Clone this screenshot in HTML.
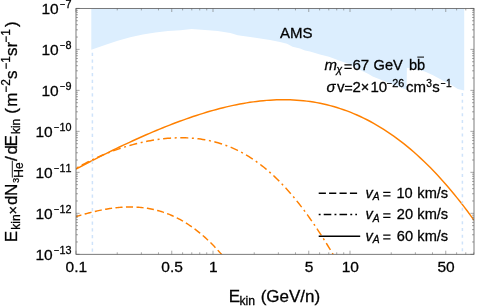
<!DOCTYPE html>
<html><head><meta charset="utf-8"><title>chart</title>
<style>
html,body{margin:0;padding:0;background:#fff;}
svg{display:block;}
text{font-family:"Liberation Sans",sans-serif;font-kerning:none;fill:#000;stroke:#000;stroke-width:1.2px;}
</style></head><body>
<svg width="478" height="308" viewBox="0 0 478 308">
<rect width="478" height="308" fill="#fff"/>
<defs><clipPath id="c"><rect x="76.0" y="8.4" width="398.0" height="245.9"/></clipPath></defs>
<path d="M91.3,8.4 L91.3,49.7 L105.0,45.0 L117.7,40.8 L130.2,37.2 L142.8,34.6 L155.4,32.6 L167.9,31.1 L180.5,30.3 L191.5,29.1 L205.0,30.1 L217.7,31.1 L230.3,33.1 L237.8,35.2 L255.4,37.7 L270.0,39.9 L280.0,42.0 L287.0,43.8 L292.6,46.8 L300.0,48.6 L305.0,50.5 L310.0,51.5 L320.0,54.6 L329.0,56.8 L339.0,60.5 L349.0,64.0 L358.7,69.2 L368.5,74.0 L372.7,76.5 L385.3,81.5 L398.0,86.6 L406.6,89.7 L406.9,67.8 L416.6,69.6 L424.8,71.6 L433.1,75.2 L441.4,79.8 L449.7,84.0 L457.9,88.9 L464.2,90.6 L464.2,8.4Z" fill="#dceefe"/>
<g clip-path="url(#c)" fill="none" stroke="#ff8000" stroke-width="1.45">
<path d="M76.00,169.05 L79.34,167.27 L82.69,165.50 L86.03,163.74 L89.38,162.00 L92.72,160.28 L96.07,158.57 L99.41,156.87 L102.76,155.19 L106.10,153.53 L109.45,151.87 L112.79,150.24 L116.13,148.62 L119.48,147.01 L122.82,145.43 L126.17,143.85 L129.51,142.30 L132.86,140.76 L136.20,139.24 L139.55,137.74 L142.89,136.25 L146.24,134.78 L149.58,133.34 L152.92,131.91 L156.27,130.50 L159.61,129.12 L162.96,127.75 L166.30,126.41 L169.65,125.09 L172.99,123.80 L176.34,122.53 L179.68,121.28 L183.03,120.06 L186.37,118.87 L189.71,117.70 L193.06,116.56 L196.40,115.45 L199.75,114.37 L203.09,113.32 L206.44,112.30 L209.78,111.32 L213.13,110.36 L216.47,109.44 L219.82,108.56 L223.16,107.71 L226.50,106.90 L229.85,106.13 L233.19,105.39 L236.54,104.70 L239.88,104.04 L243.23,103.43 L246.57,102.86 L249.92,102.34 L253.26,101.86 L256.61,101.42 L259.95,101.03 L263.29,100.69 L266.64,100.40 L269.98,100.16 L273.33,99.97 L276.67,99.84 L280.02,99.75 L283.36,99.72 L286.71,99.75 L290.05,99.83 L293.39,99.97 L296.74,100.17 L300.08,100.43 L303.43,100.75 L306.77,101.13 L310.12,101.57 L313.46,102.08 L316.81,102.65 L320.15,103.29 L323.50,104.00 L326.84,104.77 L330.18,105.62 L333.53,106.53 L336.87,107.52 L340.22,108.57 L343.56,109.71 L346.91,110.91 L350.25,112.19 L353.60,113.55 L356.94,114.98 L360.29,116.49 L363.63,118.09 L366.97,119.76 L370.32,121.51 L373.66,123.35 L377.01,125.26 L380.35,127.26 L383.70,129.35 L387.04,131.52 L390.39,133.78 L393.73,136.12 L397.08,138.55 L400.42,141.07 L403.76,143.68 L407.11,146.38 L410.45,149.17 L413.80,152.05 L417.14,155.03 L420.49,158.09 L423.83,161.25 L427.18,164.51 L430.52,167.85 L433.87,171.30 L437.21,174.83 L440.55,178.47 L443.90,182.20 L447.24,186.03 L450.59,189.95 L453.93,193.97 L457.28,198.09 L460.62,202.31 L463.97,206.63 L467.31,211.05 L470.66,215.56 L474.00,220.18"/>
<path d="M76.00,168.29 L78.18,167.06 L80.37,165.86 L82.55,164.69 L84.74,163.54 L86.92,162.42 L89.11,161.32 L91.29,160.25 L93.48,159.20 L95.66,158.18 L97.85,157.19 L100.03,156.22 L102.22,155.27 L104.40,154.36 L106.59,153.46 L108.77,152.59 L110.96,151.75 L113.14,150.93 L115.33,150.13 L117.51,149.36 L119.70,148.61 L121.88,147.88 L124.07,147.18 L126.25,146.51 L128.44,145.86 L130.62,145.23 L132.81,144.62 L134.99,144.04 L137.18,143.49 L139.36,142.96 L141.55,142.45 L143.73,141.97 L145.92,141.51 L148.10,141.08 L150.29,140.67 L152.47,140.28 L154.66,139.93 L156.84,139.60 L159.03,139.29 L161.21,139.01 L163.39,138.76 L165.58,138.54 L167.76,138.34 L169.95,138.17 L172.13,138.03 L174.32,137.92 L176.50,137.84 L178.69,137.79 L180.87,137.77 L183.06,137.78 L185.24,137.83 L187.43,137.90 L189.61,138.01 L191.80,138.16 L193.98,138.33 L196.17,138.55 L198.35,138.80 L200.54,139.09 L202.72,139.41 L204.91,139.77 L207.09,140.18 L209.28,140.62 L211.46,141.10 L213.65,141.63 L215.83,142.20 L218.02,142.81 L220.20,143.47 L222.39,144.17 L224.57,144.92 L226.76,145.72 L228.94,146.56 L231.13,147.45 L233.31,148.40 L235.50,149.39 L237.68,150.44 L239.87,151.53 L242.05,152.68 L244.24,153.89 L246.42,155.15 L248.61,156.47 L250.79,157.84 L252.97,159.27 L255.16,160.76 L257.34,162.30 L259.53,163.91 L261.71,165.58 L263.90,167.30 L266.08,169.09 L268.27,170.94 L270.45,172.86 L272.64,174.83 L274.82,176.87 L277.01,178.98 L279.19,181.14 L281.38,183.37 L283.56,185.67 L285.75,188.03 L287.93,190.46 L290.12,192.95 L292.30,195.50 L294.49,198.12 L296.67,200.80 L298.86,203.55 L301.04,206.36 L303.23,209.23 L305.41,212.17 L307.60,215.17 L309.78,218.22 L311.97,221.34 L314.15,224.52 L316.34,227.76 L318.52,231.05 L320.71,234.40 L322.89,237.80 L325.08,241.25 L327.26,244.75 L329.45,248.31 L331.63,251.91 L333.82,255.55 L336.00,259.23" stroke-dasharray="2 3.6 8 3.6" stroke-dashoffset="-1"/>
<path d="M76.00,216.58 L77.25,216.21 L78.50,215.83 L79.76,215.47 L81.01,215.10 L82.26,214.74 L83.51,214.39 L84.76,214.04 L86.02,213.70 L87.27,213.36 L88.52,213.03 L89.77,212.71 L91.03,212.39 L92.28,212.08 L93.53,211.78 L94.78,211.48 L96.03,211.19 L97.29,210.91 L98.54,210.64 L99.79,210.37 L101.04,210.11 L102.29,209.86 L103.55,209.62 L104.80,209.39 L106.05,209.17 L107.30,208.96 L108.55,208.75 L109.81,208.56 L111.06,208.38 L112.31,208.20 L113.56,208.04 L114.82,207.89 L116.07,207.75 L117.32,207.61 L118.57,207.50 L119.82,207.39 L121.08,207.29 L122.33,207.21 L123.58,207.13 L124.83,207.07 L126.08,207.03 L127.34,206.99 L128.59,206.97 L129.84,206.96 L131.09,206.96 L132.34,206.98 L133.60,207.01 L134.85,207.06 L136.10,207.11 L137.35,207.19 L138.61,207.27 L139.86,207.38 L141.11,207.49 L142.36,207.63 L143.61,207.77 L144.87,207.94 L146.12,208.11 L147.37,208.31 L148.62,208.52 L149.87,208.74 L151.13,208.98 L152.38,209.24 L153.63,209.52 L154.88,209.81 L156.13,210.12 L157.39,210.45 L158.64,210.79 L159.89,211.15 L161.14,211.53 L162.39,211.93 L163.65,212.35 L164.90,212.78 L166.15,213.23 L167.40,213.70 L168.66,214.19 L169.91,214.70 L171.16,215.23 L172.41,215.78 L173.66,216.35 L174.92,216.93 L176.17,217.54 L177.42,218.17 L178.67,218.82 L179.92,219.48 L181.18,220.17 L182.43,220.88 L183.68,221.61 L184.93,222.36 L186.18,223.14 L187.44,223.93 L188.69,224.75 L189.94,225.58 L191.19,226.44 L192.45,227.32 L193.70,228.23 L194.95,229.16 L196.20,230.10 L197.45,231.08 L198.71,232.07 L199.96,233.09 L201.21,234.13 L202.46,235.19 L203.71,236.28 L204.97,237.39 L206.22,238.53 L207.47,239.69 L208.72,240.87 L209.97,242.08 L211.23,243.31 L212.48,244.57 L213.73,245.85 L214.98,247.16 L216.24,248.49 L217.49,249.84 L218.74,251.23 L219.99,252.63 L221.24,254.07 L222.50,255.53 L223.75,257.01 L225.00,258.52" stroke-dasharray="7.1 3.4" stroke-dashoffset="1.5"/>
</g>
<g stroke="#cfe3fa" stroke-width="1.5" stroke-dasharray="3.2 3.55" fill="none">
<path d="M92.4,52.7V254.3"/><path d="M462.4,92.9V254.3"/>
</g>
<path d="M76.00,254.30v-3.6M76.00,8.40v3.6M171.76,254.30v-3.6M171.76,8.40v3.6M213.00,254.30v-3.6M213.00,8.40v3.6M308.76,254.30v-3.6M308.76,8.40v3.6M350.00,254.30v-3.6M350.00,8.40v3.6M445.76,254.30v-3.6M445.76,8.40v3.6M117.24,254.30v-2.0M117.24,8.40v2.0M141.37,254.30v-2.0M141.37,8.40v2.0M158.48,254.30v-2.0M158.48,8.40v2.0M182.61,254.30v-2.0M182.61,8.40v2.0M191.78,254.30v-2.0M191.78,8.40v2.0M199.72,254.30v-2.0M199.72,8.40v2.0M206.73,254.30v-2.0M206.73,8.40v2.0M254.24,254.30v-2.0M254.24,8.40v2.0M278.37,254.30v-2.0M278.37,8.40v2.0M295.48,254.30v-2.0M295.48,8.40v2.0M319.61,254.30v-2.0M319.61,8.40v2.0M328.78,254.30v-2.0M328.78,8.40v2.0M336.72,254.30v-2.0M336.72,8.40v2.0M343.73,254.30v-2.0M343.73,8.40v2.0M391.24,254.30v-2.0M391.24,8.40v2.0M415.37,254.30v-2.0M415.37,8.40v2.0M432.48,254.30v-2.0M432.48,8.40v2.0M456.61,254.30v-2.0M456.61,8.40v2.0M465.78,254.30v-2.0M465.78,8.40v2.0M473.72,254.30v-2.0M473.72,8.40v2.0M76.00,254.30h3.6M474.00,254.30h-3.6M76.00,241.96h2.0M474.00,241.96h-2.0M76.00,234.75h2.0M474.00,234.75h-2.0M76.00,229.63h2.0M474.00,229.63h-2.0M76.00,225.65h2.0M474.00,225.65h-2.0M76.00,222.41h2.0M474.00,222.41h-2.0M76.00,219.67h2.0M474.00,219.67h-2.0M76.00,217.29h2.0M474.00,217.29h-2.0M76.00,215.19h2.0M474.00,215.19h-2.0M76.00,213.32h3.6M474.00,213.32h-3.6M76.00,200.98h2.0M474.00,200.98h-2.0M76.00,193.76h2.0M474.00,193.76h-2.0M76.00,188.64h2.0M474.00,188.64h-2.0M76.00,184.67h2.0M474.00,184.67h-2.0M76.00,181.43h2.0M474.00,181.43h-2.0M76.00,178.68h2.0M474.00,178.68h-2.0M76.00,176.31h2.0M474.00,176.31h-2.0M76.00,174.21h2.0M474.00,174.21h-2.0M76.00,172.33h3.6M474.00,172.33h-3.6M76.00,160.00h2.0M474.00,160.00h-2.0M76.00,152.78h2.0M474.00,152.78h-2.0M76.00,147.66h2.0M474.00,147.66h-2.0M76.00,143.69h2.0M474.00,143.69h-2.0M76.00,140.44h2.0M474.00,140.44h-2.0M76.00,137.70h2.0M474.00,137.70h-2.0M76.00,135.32h2.0M474.00,135.32h-2.0M76.00,133.23h2.0M474.00,133.23h-2.0M76.00,131.35h3.6M474.00,131.35h-3.6M76.00,119.01h2.0M474.00,119.01h-2.0M76.00,111.80h2.0M474.00,111.80h-2.0M76.00,106.68h2.0M474.00,106.68h-2.0M76.00,102.70h2.0M474.00,102.70h-2.0M76.00,99.46h2.0M474.00,99.46h-2.0M76.00,96.72h2.0M474.00,96.72h-2.0M76.00,94.34h2.0M474.00,94.34h-2.0M76.00,92.24h2.0M474.00,92.24h-2.0M76.00,90.37h3.6M474.00,90.37h-3.6M76.00,78.03h2.0M474.00,78.03h-2.0M76.00,70.81h2.0M474.00,70.81h-2.0M76.00,65.69h2.0M474.00,65.69h-2.0M76.00,61.72h2.0M474.00,61.72h-2.0M76.00,58.48h2.0M474.00,58.48h-2.0M76.00,55.73h2.0M474.00,55.73h-2.0M76.00,53.36h2.0M474.00,53.36h-2.0M76.00,51.26h2.0M474.00,51.26h-2.0M76.00,49.38h3.6M474.00,49.38h-3.6M76.00,37.05h2.0M474.00,37.05h-2.0M76.00,29.83h2.0M474.00,29.83h-2.0M76.00,24.71h2.0M474.00,24.71h-2.0M76.00,20.74h2.0M474.00,20.74h-2.0M76.00,17.49h2.0M474.00,17.49h-2.0M76.00,14.75h2.0M474.00,14.75h-2.0M76.00,12.37h2.0M474.00,12.37h-2.0M76.00,10.28h2.0M474.00,10.28h-2.0M76.00,8.40h3.6M474.00,8.40h-3.6" stroke="#6e6e6e" stroke-width="0.6" fill="none"/>
<rect x="76.0" y="8.4" width="398.0" height="245.9" fill="none" stroke="#5a5a5a" stroke-width="0.8"/>
<g style="opacity:0.999">
<text transform="translate(35.41,259.90) scale(0.2500,0.2500)" font-size="62">10</text>
<text transform="translate(53.75,253.60) scale(0.2113,0.2500)" font-size="43.2">−</text>
<text transform="translate(59.39,253.60) scale(0.2500,0.2500)" font-size="43.2">13</text>
<text transform="translate(35.41,218.92) scale(0.2500,0.2500)" font-size="62">10</text>
<text transform="translate(53.75,212.62) scale(0.2113,0.2500)" font-size="43.2">−</text>
<text transform="translate(59.39,212.62) scale(0.2500,0.2500)" font-size="43.2">12</text>
<text transform="translate(35.41,177.93) scale(0.2500,0.2500)" font-size="62">10</text>
<text transform="translate(53.75,171.63) scale(0.2113,0.2500)" font-size="43.2">−</text>
<text transform="translate(59.39,171.63) scale(0.2500,0.2500)" font-size="43.2">11</text>
<text transform="translate(35.41,136.95) scale(0.2500,0.2500)" font-size="62">10</text>
<text transform="translate(53.75,130.65) scale(0.2113,0.2500)" font-size="43.2">−</text>
<text transform="translate(59.39,130.65) scale(0.2500,0.2500)" font-size="43.2">10</text>
<text transform="translate(41.41,95.97) scale(0.2500,0.2500)" font-size="62">10</text>
<text transform="translate(59.75,89.67) scale(0.2113,0.2500)" font-size="43.2">−</text>
<text transform="translate(65.39,89.67) scale(0.2500,0.2500)" font-size="43.2">9</text>
<text transform="translate(41.41,54.98) scale(0.2500,0.2500)" font-size="62">10</text>
<text transform="translate(59.75,48.68) scale(0.2113,0.2500)" font-size="43.2">−</text>
<text transform="translate(65.39,48.68) scale(0.2500,0.2500)" font-size="43.2">8</text>
<text transform="translate(41.41,14.00) scale(0.2500,0.2500)" font-size="62">10</text>
<text transform="translate(59.75,7.70) scale(0.2113,0.2500)" font-size="43.2">−</text>
<text transform="translate(65.39,7.70) scale(0.2500,0.2500)" font-size="43.2">7</text>
<text transform="translate(65.53,272.00) scale(0.2500,0.2500)" font-size="62">0.1</text>
<text transform="translate(161.29,272.00) scale(0.2500,0.2500)" font-size="62">0.5</text>
<text transform="translate(208.99,272.00) scale(0.2500,0.2500)" font-size="62">1</text>
<text transform="translate(304.75,272.00) scale(0.2500,0.2500)" font-size="62">5</text>
<text transform="translate(341.68,272.00) scale(0.2500,0.2500)" font-size="62">10</text>
<text transform="translate(437.44,272.00) scale(0.2500,0.2500)" font-size="62">50</text>
<text transform="translate(228.64,301.50) scale(0.2500,0.2500)" font-size="68">E</text>
<text transform="translate(239.51,304.60) scale(0.2500,0.2500)" font-size="48.8">kin</text>
<text transform="translate(260.68,301.50) scale(0.2500,0.2500)" font-size="68">(GeV/n)</text>
<g transform="translate(17.1,241.2) rotate(-90)">
<text transform="translate(-1.06,0.00) scale(0.2500,0.2500)" font-size="68">E</text>
<text transform="translate(11.42,3.10) scale(0.2500,0.2500)" font-size="48">kin</text>
<text transform="translate(26.59,0.60) scale(0.2500,0.2500)" font-size="58">×</text>
<text transform="translate(36.32,0.00) scale(0.2500,0.2500)" font-size="68">d</text>
<text transform="translate(45.24,0.00) scale(0.2500,0.2500)" font-size="68">N</text>
<text transform="translate(58.56,2.20) scale(0.2500,0.2500)" font-size="34.4">3</text>
<text transform="translate(63.44,6.20) scale(0.2500,0.2500)" font-size="48">He</text>
<text transform="translate(80.20,0.00) scale(0.2500,0.2500)" font-size="68">/</text>
<text transform="translate(86.62,0.00) scale(0.2500,0.2500)" font-size="68">d</text>
<text transform="translate(94.64,0.00) scale(0.2500,0.2500)" font-size="68">E</text>
<text transform="translate(107.12,3.10) scale(0.2500,0.2500)" font-size="48">kin</text>
<text transform="translate(127.38,0.00) scale(0.2500,0.2500)" font-size="68">(</text>
<text transform="translate(134.50,0.00) scale(0.2500,0.2500)" font-size="68">m</text>
<text transform="translate(162.29,0.00) scale(0.2500,0.2500)" font-size="68">s</text>
<text transform="translate(185.19,0.00) scale(0.2500,0.2500)" font-size="68">sr</text>
<text transform="translate(214.11,0.00) scale(0.2500,0.2500)" font-size="68">)</text>
<text transform="translate(148.55,-7.10) scale(0.2371,0.2500)" font-size="48">−</text>
<text transform="translate(155.36,-7.10) scale(0.2500,0.2500)" font-size="48">2</text>
<text transform="translate(171.75,-7.10) scale(0.2371,0.2500)" font-size="48">−</text>
<text transform="translate(178.56,-7.10) scale(0.2500,0.2500)" font-size="48">1</text>
<text transform="translate(198.55,-7.10) scale(0.2371,0.2500)" font-size="48">−</text>
<text transform="translate(205.36,-7.10) scale(0.2500,0.2500)" font-size="48">1</text>
<path d="M63.6,-4.8H80.6" stroke="#000" stroke-width="0.9"/>
</g>
<path d="M344.40,64.85h7.3M344.40,68.45h7.3" stroke="#000" stroke-width="1.25" fill="none"/><path d="M344.90,86.35h7.3M344.90,89.95h7.3" stroke="#000" stroke-width="1.25" fill="none"/><text transform="translate(280.10,38.00) scale(0.2500,0.2500)" font-size="60">AMS</text>
<text transform="translate(324.38,70.20) scale(0.2500,0.2500)" font-size="60" font-style="italic">m</text>
<text transform="translate(336.16,73.00) scale(0.2500,0.2500)" font-size="43.2" font-style="italic">χ</text>
<text transform="translate(352.45,70.20) scale(0.2500,0.2500)" font-size="60">67</text>
<text transform="translate(373.57,70.20) scale(0.2500,0.2500)" font-size="58.4">GeV</text>
<text transform="translate(408.95,70.20) scale(0.2500,0.2500)" font-size="58.4">bb</text>
<text transform="translate(326.58,91.70) scale(0.2500,0.2500)" font-size="60" font-style="italic">σ</text>
<text transform="translate(337.12,91.70) scale(0.2500,0.2500)" font-size="60">v</text>
<text transform="translate(352.55,91.70) scale(0.2500,0.2500)" font-size="60">2</text>
<text transform="translate(360.69,91.50) scale(0.2500,0.2500)" font-size="58">×</text>
<text transform="translate(370.38,91.70) scale(0.2500,0.2500)" font-size="60">10</text>
<text transform="translate(405.90,91.70) scale(0.2500,0.2500)" font-size="60">cm</text>
<text transform="translate(426.29,87.30) scale(0.2500,0.2500)" font-size="40.8">3</text>
<text transform="translate(432.15,91.70) scale(0.2500,0.2500)" font-size="60">s</text>
<text transform="translate(386.50,87.30) scale(0.2113,0.2500)" font-size="43.2">−</text>
<text transform="translate(392.14,87.30) scale(0.2500,0.2500)" font-size="43.2">26</text>
<text transform="translate(440.78,87.30) scale(0.2113,0.2500)" font-size="40.8">−</text>
<text transform="translate(446.11,87.30) scale(0.2500,0.2500)" font-size="40.8">1</text>
<path d="M417.3,57.1H424" stroke="#000" stroke-width="1"/>
<g stroke="#000" stroke-width="1.5" fill="none">
<path d="M318.7,193.2H357.5" stroke-dasharray="7.2 3.2"/>
<path d="M318.7,214.6H357" stroke-dasharray="1.9 3.1 7.6 3.2"/>
<path d="M318.7,236.2H360.2"/>
</g>
<text transform="translate(365.40,197.70) scale(0.2500,0.2500)" font-size="58.4" font-style="italic">v</text>
<text transform="translate(372.81,200.30) scale(0.2500,0.2500)" font-size="41.2" font-style="italic">A</text>
<text transform="translate(396.50,197.70) scale(0.2500,0.2500)" font-size="58.4">10</text>
<text transform="translate(417.35,197.70) scale(0.2500,0.2500)" font-size="58.4">km/s</text>
<text transform="translate(365.40,219.10) scale(0.2500,0.2500)" font-size="58.4" font-style="italic">v</text>
<text transform="translate(372.81,221.70) scale(0.2500,0.2500)" font-size="41.2" font-style="italic">A</text>
<text transform="translate(396.87,219.10) scale(0.2500,0.2500)" font-size="58.4">20</text>
<text transform="translate(417.35,219.10) scale(0.2500,0.2500)" font-size="58.4">km/s</text>
<text transform="translate(365.40,240.50) scale(0.2500,0.2500)" font-size="58.4" font-style="italic">v</text>
<text transform="translate(372.81,243.10) scale(0.2500,0.2500)" font-size="41.2" font-style="italic">A</text>
<text transform="translate(396.87,240.50) scale(0.2500,0.2500)" font-size="58.4">60</text>
<text transform="translate(417.35,240.50) scale(0.2500,0.2500)" font-size="58.4">km/s</text><path d="M383.20,192.35h7.3M383.20,195.95h7.3" stroke="#000" stroke-width="1.25" fill="none"/><path d="M383.20,213.75h7.3M383.20,217.35h7.3" stroke="#000" stroke-width="1.25" fill="none"/><path d="M383.20,235.15h7.3M383.20,238.75h7.3" stroke="#000" stroke-width="1.25" fill="none"/>
</g>
</svg>
</body></html>
